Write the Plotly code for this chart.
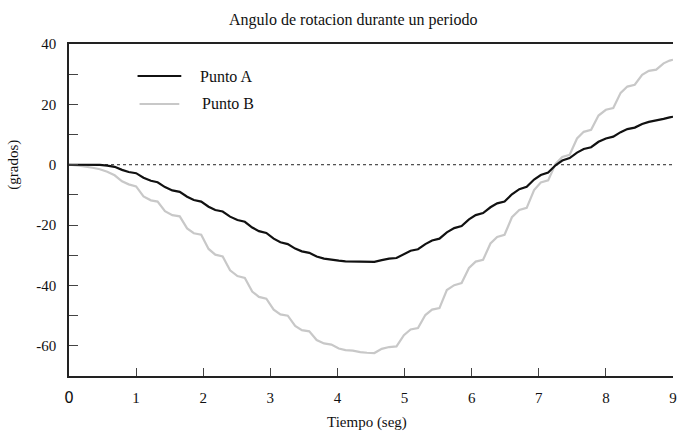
import plotly.graph_objects as go

# Tiempo (s) y ángulo de rotación (grados) de los puntos A y B
tiempo = [0.00, 0.15, 0.35, 0.46, 0.57, 0.68, 0.79, 0.89, 1.00, 1.11, 1.22, 1.32,
          1.43, 1.54, 1.65, 1.76, 1.86, 1.97, 2.08, 2.18, 2.29, 2.40, 2.51, 2.62,
          2.73, 2.83, 2.94, 3.05, 3.15, 3.26, 3.37, 3.47, 3.58, 3.69, 3.80, 3.91,
          4.02, 4.12, 4.23, 4.34, 4.44, 4.55, 4.66, 4.77, 4.88, 4.99, 5.09, 5.20,
          5.31, 5.41, 5.52, 5.63, 5.74, 5.85, 5.96, 6.06, 6.17, 6.28, 6.38, 6.49,
          6.60, 6.71, 6.82, 6.93, 7.03, 7.14, 7.25, 7.35, 7.46, 7.57, 7.67, 7.78,
          7.89, 8.00, 8.11, 8.22, 8.32, 8.43, 8.54, 8.64, 8.75, 8.86, 8.95, 9.00]

punto_a = [0.0, 0.05, 0.0, -0.05, -0.3, -0.7, -1.7, -2.4, -2.8, -4.3, -5.3, -5.8,
           -7.4, -8.5, -9.0, -10.6, -11.7, -12.2, -13.9, -15.0, -15.5, -17.2, -18.3, -18.9,
           -20.8, -22.0, -22.6, -24.5, -25.7, -26.3, -27.8, -28.7, -29.2, -30.4, -31.1, -31.5,
           -31.8, -32.0, -32.0, -32.1, -32.2, -32.2, -31.6, -31.1, -30.9, -29.5, -28.5, -28.0,
           -26.3, -25.1, -24.5, -22.4, -21.0, -20.3, -18.1, -16.7, -16.0, -14.1, -12.8, -12.2,
           -9.8, -8.1, -7.3, -4.9, -3.4, -2.6, -0.2, 1.4, 2.2, 4.0, 5.2, 5.8,
           7.6, 8.7, 9.3, 10.8, 11.8, 12.3, 13.5, 14.2, 14.6, 15.2, 15.7, 15.9]

punto_b = [0.0, -0.3, -1.0, -1.5, -2.3, -3.5, -5.5, -6.5, -7.2, -10.5, -11.8, -12.2,
           -15.4, -16.7, -17.1, -21.1, -22.7, -23.2, -27.9, -29.8, -30.4, -35.0, -36.9, -37.5,
           -42.0, -43.8, -44.4, -48.0, -49.6, -50.0, -53.4, -54.8, -55.2, -58.1, -59.2, -59.6,
           -60.9, -61.4, -61.6, -62.1, -62.3, -62.4, -61.0, -60.4, -60.2, -56.5, -54.6, -54.1,
           -49.8, -48.0, -47.5, -41.5, -39.9, -39.2, -34.2, -32.1, -31.5, -26.1, -23.9, -23.2,
           -17.4, -15.0, -14.3, -8.4, -5.9, -5.2, 0.3, 2.6, 3.3, 8.7, 10.9, 11.6,
           16.3, 18.2, 18.8, 23.8, 25.9, 26.5, 29.8, 31.1, 31.5, 33.6, 34.5, 34.8]

x_ticks = [0, 1, 2, 3, 4, 5, 6, 7, 8, 9]
x_labels = ['<span style="font-family:DejaVu Sans">0</span>', "1", "2", "3", "4",
            "5", "6", "7", "8", "9"]
y_ticks = [-60, -50, -40, -30, -20, -10, 0, 10, 20, 30, 40]
y_labels = ["-60", "", "-40", "", "-20", "", "0", "", "20", "", "40"]

SERIF = "Liberation Serif, Times New Roman, serif"
NEGRO = "#111111"
GRIS = "#c8c8c8"

fig = go.Figure()
fig.add_trace(go.Scatter(x=tiempo, y=punto_b, mode="lines", name="Punto B",
                         line=dict(color=GRIS, width=2.2)))
fig.add_trace(go.Scatter(x=tiempo, y=punto_a, mode="lines", name="Punto A",
                         line=dict(color=NEGRO, width=2.2)))

# línea de referencia en 0 grados
fig.add_shape(type="line", xref="paper", yref="y", x0=0, x1=1, y0=0, y1=0,
              line=dict(color="#222222", width=1, dash="dot"), layer="below")

# leyenda dibujada a mano
for y_pos, color, texto, x0, x1, xt in [
        (0.9036, NEGRO, "Punto A", 0.1135, 0.1859, 0.2138),
        (0.8193, GRIS, "Punto B", 0.1168, 0.1826, 0.2171)]:
    fig.add_shape(type="line", xref="paper", yref="paper", x0=x0, x1=x1,
                  y0=y_pos, y1=y_pos, line=dict(color=color, width=2.2))
    fig.add_annotation(xref="paper", yref="paper", x=xt, y=y_pos, text=texto,
                       showarrow=False, xanchor="left", yanchor="middle",
                       font=dict(family=SERIF, size=16, color=NEGRO))

# títulos
fig.add_annotation(xref="paper", yref="paper", x=(355 - 69) / 608, y=1,
                   yshift=24, text="Angulo de rotacion durante un periodo",
                   showarrow=False, xanchor="center", yanchor="middle",
                   font=dict(family=SERIF, size=16, color=NEGRO))
fig.add_annotation(xref="paper", yref="paper", x=0.494, y=0, yshift=-46,
                   text="Tiempo (seg)", showarrow=False, xanchor="center",
                   yanchor="middle", font=dict(family=SERIF, size=15, color=NEGRO))
fig.add_annotation(xref="paper", yref="y", x=0, xshift=-55, y=0,
                   text="(grados)", textangle=-90, showarrow=False,
                   xanchor="center", yanchor="middle",
                   font=dict(family=SERIF, size=15, color=NEGRO))

fig.update_layout(
    width=678, height=432,
    margin=dict(l=69, r=1, t=44, b=56),
    plot_bgcolor="white", paper_bgcolor="white",
    showlegend=False,
    xaxis=dict(range=[0, 9], showline=True, linecolor="#222222", linewidth=1.5,
               mirror=True, ticks="inside", ticklen=8, tickwidth=1,
               tickcolor="#444444", tickmode="array", tickvals=x_ticks,
               ticktext=x_labels, showgrid=False, zeroline=False,
               ticklabelstandoff=7, ticklabeloverflow="allow",
               tickfont=dict(family=SERIF, size=15, color=NEGRO)),
    yaxis=dict(range=[-70, 40], showline=True, linecolor="#222222", linewidth=1.5,
               ticks="inside", ticklen=9, tickwidth=1, tickcolor="#444444",
               tickmode="array", tickvals=y_ticks, ticktext=y_labels,
               showgrid=False, zeroline=False, ticklabelstandoff=8,
               tickfont=dict(family=SERIF, size=15, color=NEGRO)),
)

fig.write_html("out.html")
